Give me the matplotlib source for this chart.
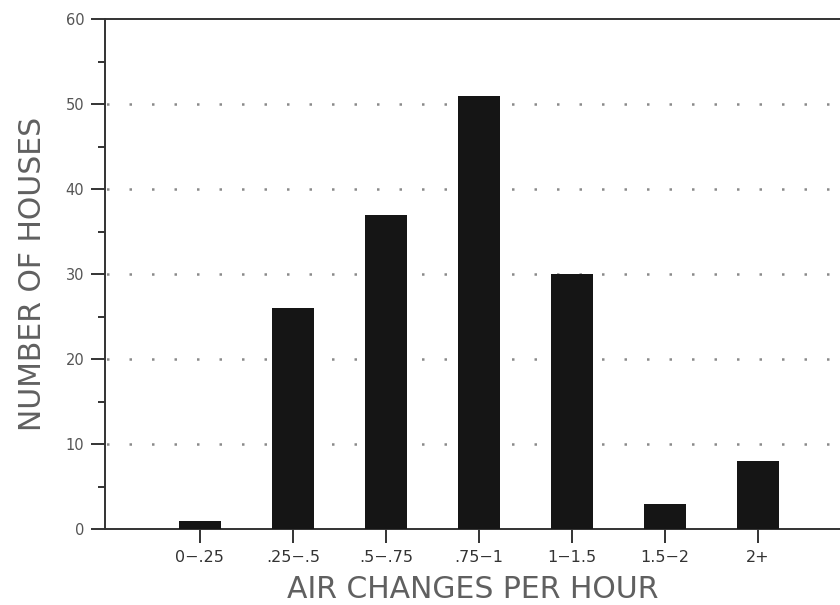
import matplotlib
matplotlib.use("Agg")
import matplotlib.pyplot as plt
import numpy as np
from matplotlib.ticker import MultipleLocator

categories = ["0\u2212.25", ".25\u2212.5", ".5\u2212.75", ".75\u22121", "1\u22121.5", "1.5\u22122", "2+"]
houses = [1, 26, 37, 51, 30, 3, 8]

plt.rcParams['font.family'] = ['DejaVu Sans']
fig = plt.figure(figsize=(8.4, 6.05), dpi=100)
ax = fig.add_axes([105/840, 1-529/605, 1-105/840, (529-19)/605])

x = np.arange(len(categories))
ax.bar(x, houses, width=0.45, color='#151515', zorder=3)

ax.set_ylim(0, 60)
ax.set_xlim(-1.02, 6.88)
ax.yaxis.set_major_locator(MultipleLocator(10))
ax.yaxis.set_minor_locator(MultipleLocator(5))
ax.set_xticks(x)
ax.set_xticklabels(categories)

for v in [10, 20, 30, 40, 50]:
    ax.axhline(v, color='#8a8a8a', linestyle=(8.4, (1, 8)), linewidth=1.8, zorder=1)

ax.spines['right'].set_visible(False)
for s in ['left', 'top', 'bottom']:
    ax.spines[s].set_color('#333333')
    ax.spines[s].set_linewidth(1.4)

ax.tick_params(axis='y', which='major', length=10, width=1.4, color='#333333', labelsize=10.5, labelcolor='#555555', pad=5)
ax.tick_params(axis='y', which='minor', length=5, width=1.4, color='#333333')
ax.tick_params(axis='x', which='major', length=10, width=1.4, color='#333333', labelsize=11.5, labelcolor='#333333', pad=5)

ax.set_xlabel("AIR CHANGES PER HOUR", fontsize=21.5, color='#606060', labelpad=7)
ax.set_ylabel("NUMBER OF HOUSES", fontsize=21.5, color='#606060', labelpad=13)

fig.savefig("out.png", dpi=100)
